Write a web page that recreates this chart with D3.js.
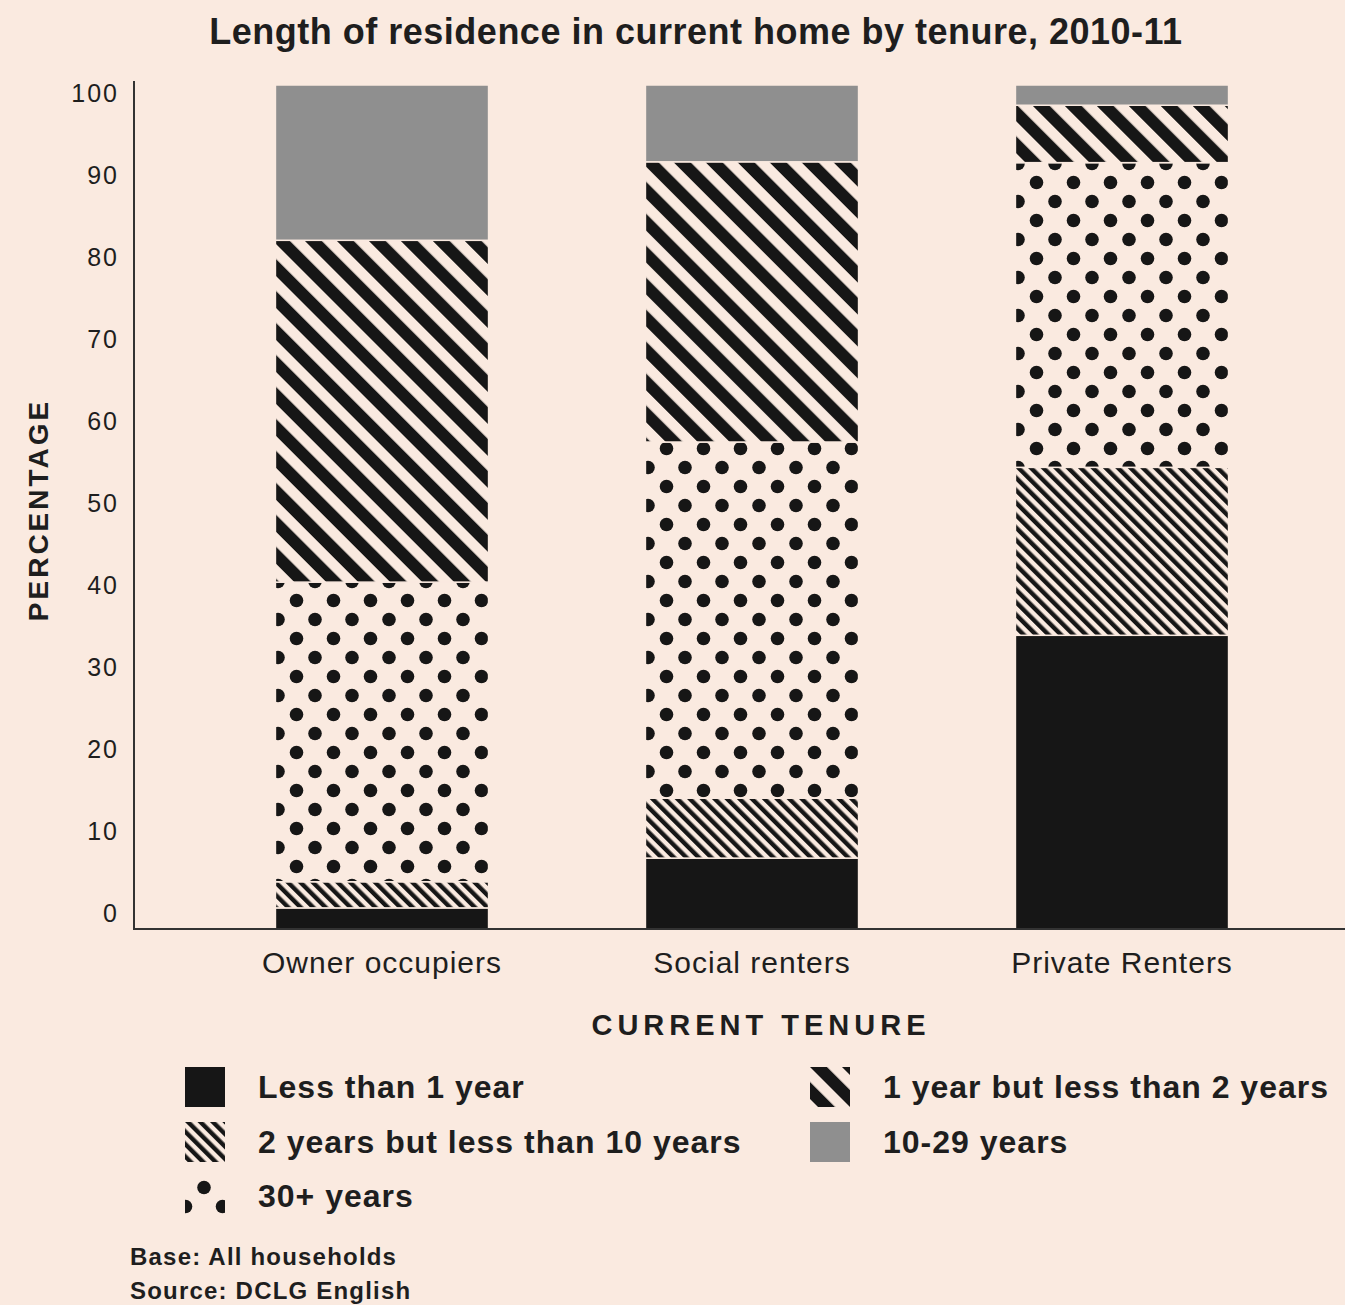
<!DOCTYPE html>
<html>
<head>
<meta charset="utf-8">
<script src="https://cdn.jsdelivr.net/npm/d3@7"></script>
<style>
  html, body { margin: 0; padding: 0; background: #faeae0; }
  svg { display: block; }
  text { font-family: "Liberation Sans", Arial, Helvetica, sans-serif; fill: #1e1e1e; }
</style>
</head>
<body>
<svg id="chart" width="1345" height="1305"></svg>
<script>
// Tenure groups along the x axis
const categories = ["Owner occupiers", "Social renters", "Private Renters"];

// Length-of-residence bands, stacked bottom to top
const bands = ["lt1", "y2to10", "y30plus", "y1to2", "y10to29"];
const bandLabels = {
  lt1: "Less than 1 year",
  y1to2: "1 year but less than 2 years",
  y2to10: "2 years but less than 10 years",
  y10to29: "10-29 years",
  y30plus: "30+ years"
};

// Percentage of households in each band, per tenure
const lessThan1 = [2.5, 8.4, 34.8];
const twoToTen  = [3.1, 7.1, 19.9];
const thirtyPlus = [35.5, 42.2, 36.1];
const oneToTwo  = [40.5, 33.2, 6.8];
const tenTo29   = [18.4, 9.1, 2.4];

const yTicks = [0, 10, 20, 30, 40, 50, 60, 70, 80, 90, 100];

// Legend layout order (two columns)
const legendOrder = ["lt1", "y1to2", "y2to10", "y10to29", "y30plus"];

const rows = categories.map((c, i) => ({
  tenure: c,
  lt1: lessThan1[i],
  y2to10: twoToTen[i],
  y30plus: thirtyPlus[i],
  y1to2: oneToTwo[i],
  y10to29: tenTo29[i]
}));

const svg = d3.select("#chart");
const defs = svg.append("defs");

const ink = "#161616";
const paper = "#faeae0";
const grey = "#8f8f8f";

// Wide diagonal stripes (top-left to bottom-right)
const wide = defs.append("pattern")
  .attr("id", "p-wide").attr("patternUnits", "userSpaceOnUse")
  .attr("width", 22.6).attr("height", 22.6)
  .attr("patternTransform", "rotate(-45)");
wide.append("rect").attr("width", 22.6).attr("height", 22.6).attr("fill", paper);
wide.append("rect").attr("x", 0).attr("width", 12).attr("height", 22.6).attr("fill", ink);

// Dense diagonal stripes
const dense = defs.append("pattern")
  .attr("id", "p-dense").attr("patternUnits", "userSpaceOnUse")
  .attr("width", 8.8).attr("height", 8.8)
  .attr("patternTransform", "rotate(-45)");
dense.append("rect").attr("width", 8.8).attr("height", 8.8).attr("fill", paper);
dense.append("rect").attr("x", 0).attr("width", 4.4).attr("height", 8.8).attr("fill", ink);

// Staggered dots
const dots = defs.append("pattern")
  .attr("id", "p-dots").attr("patternUnits", "userSpaceOnUse")
  .attr("width", 37).attr("height", 38)
  .attr("x", 10).attr("y", 2);
dots.append("rect").attr("width", 37).attr("height", 38).attr("fill", paper);
[[9, 9.5], [27.5, 28.5], [46, 9.5], [-9.5, 28.5], [9, 47.5], [27.5, -9.5]].forEach(([cx, cy]) =>
  dots.append("circle").attr("cx", cx).attr("cy", cy).attr("r", 6.8).attr("fill", ink));

const fills = {
  lt1: ink,
  y1to2: "url(#p-wide)",
  y2to10: "url(#p-dense)",
  y10to29: grey,
  y30plus: "url(#p-dots)"
};

// Scales
const x = d3.scaleBand()
  .domain(categories)
  .range([197, 1307])
  .paddingInner(0.424)
  .paddingOuter(0.212);

const y = d3.scaleLinear().domain([0, 100]).range([929, 85]);
// Tick labels sit on their own slightly compressed scale
const yLabel = d3.scaleLinear().domain([0, 100]).range([913, 93]);

const stack = d3.stack().keys(bands);
const series = stack(rows);

const barG = svg.append("g");
series.forEach(s => {
  barG.append("g")
    .attr("fill", fills[s.key])
    .attr("stroke", paper)
    .attr("stroke-width", 1.5)
    .selectAll("rect")
    .data(s)
    .join("rect")
    .attr("x", d => x(d.data.tenure))
    .attr("width", x.bandwidth())
    .attr("y", d => y(d[1]))
    .attr("height", d => y(d[0]) - y(d[1]));
});

// Axis lines
svg.append("line").attr("x1", 134).attr("x2", 134).attr("y1", 81).attr("y2", 929)
  .attr("stroke", "#333").attr("stroke-width", 2);
svg.append("line").attr("x1", 133).attr("x2", 1345).attr("y1", 929).attr("y2", 929)
  .attr("stroke", "#333").attr("stroke-width", 2);

// Y tick labels
const yAxis = d3.axisLeft(yLabel).tickValues(yTicks).tickSize(0).tickPadding(0);
const yAx = svg.append("g").attr("transform", "translate(119,0)").call(yAxis);
yAx.select(".domain").remove();
yAx.selectAll("text")
  .attr("font-size", 25).attr("fill", "#1e1e1e")
  .attr("letter-spacing", 2)
  .style("font-family", "'Liberation Sans', Arial, sans-serif");

// X category labels
const xAxis = d3.axisBottom(x).tickSize(0).tickPadding(0);
const xAx = svg.append("g").attr("transform", "translate(0,952)").call(xAxis);
xAx.select(".domain").remove();
xAx.selectAll("text")
  .attr("font-size", 30).attr("fill", "#2a2a2a")
  .attr("letter-spacing", 1)
  .attr("dy", "0.71em")
  .style("font-family", "'Liberation Sans', Arial, sans-serif");

// Title
svg.append("text")
  .attr("x", 696).attr("y", 44)
  .attr("text-anchor", "middle")
  .attr("font-size", 36).attr("font-weight", "bold")
  .attr("letter-spacing", 0.5)
  .text("Length of residence in current home by tenure, 2010-11");

// Axis titles
svg.append("text")
  .attr("transform", "translate(48,510) rotate(-90)")
  .attr("text-anchor", "middle")
  .attr("font-size", 28).attr("font-weight", "bold")
  .attr("letter-spacing", 3)
  .text("PERCENTAGE");

svg.append("text")
  .attr("x", 761).attr("y", 1035)
  .attr("text-anchor", "middle")
  .attr("font-size", 29).attr("font-weight", "bold")
  .attr("letter-spacing", 5)
  .text("CURRENT TENURE");

// Legend
const legendPos = {
  lt1: [185, 1067],
  y2to10: [185, 1122],
  y30plus: [185, 1176],
  y1to2: [810, 1067],
  y10to29: [810, 1122]
};
const legend = svg.append("g");
legendOrder.forEach(k => {
  const [lx, ly] = legendPos[k];
  const g = legend.append("g").attr("transform", `translate(${lx},${ly})`);
  g.append("rect").attr("width", 40).attr("height", 40).attr("fill", fills[k]);
  g.append("text")
    .attr("x", 73).attr("y", 31)
    .attr("font-size", 32).attr("font-weight", "bold").attr("fill", "#262626")
    .attr("letter-spacing", 1)
    .text(bandLabels[k]);
});

// Notes
svg.append("text").attr("x", 130).attr("y", 1265)
  .attr("font-size", 24).attr("font-weight", "bold")
  .attr("letter-spacing", 1.2)
  .text("Base: All households");
svg.append("text").attr("x", 130).attr("y", 1299)
  .attr("font-size", 24).attr("font-weight", "bold")
  .attr("letter-spacing", 1.2)
  .text("Source: DCLG English");
</script>
</body>
</html>
